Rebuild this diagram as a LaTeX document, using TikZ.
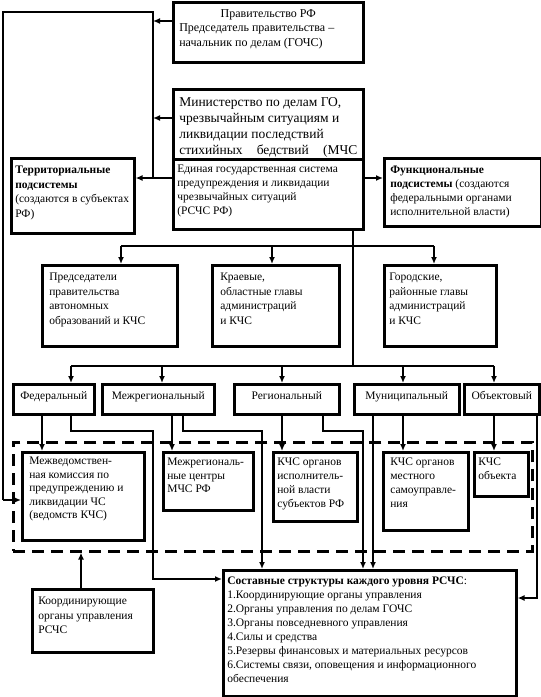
\documentclass[tikz,border=0pt]{standalone}
\usepackage{fontspec}
\setmainfont{Liberation Serif}
\usetikzlibrary{arrows.meta}
\newcommand\bt[4]{\parbox[c][#2pt][t]{#1pt}{\raggedright\vspace*{#3pt}#4}}
\tikzset{
  box/.style={draw, line width=2.6pt, inner ysep=0pt, anchor=north west,
    font=\fontsize{11.5}{14}\selectfont},
  conn/.style={line width=2.6pt},
  arr/.style={conn, -{Latex[length=7pt,width=6pt]}},
  dashbox/.style={draw, dash pattern=on 12pt off 7pt, line width=2.6pt,
    anchor=north west, inner sep=0pt},
}
\begin{document}
\begin{tikzpicture}[x=1pt,y=-1pt]
\useasboundingbox (0,0) rectangle (541,697);
% dashed frame
\node[dashbox, minimum width=519pt, minimum height=109pt] (dash) at (12,441) {};
% top boxes
\node[box, inner xsep=6pt, font=\fontsize{12}{14.5}\selectfont] (prav) at (172,1)
  {\bt{178}{60}{7}{\makebox[\linewidth]{Правительство РФ}\\Председатель правительства –\\начальник по делам (ГОЧС)}};
\node[box, inner xsep=6pt, font=\fontsize{13.5}{16}\selectfont] (min) at (172,88)
  {\bt{178}{70}{8}{Министерство по делам ГО,\\чрезвычайным ситуациям и\\ликвидации последствий\\\hbox to\linewidth{стихийных\hfill бедствий\hfill(МЧС}}};
\node[box, inner xsep=4pt] (edin) at (172,158)
  {\bt{182}{70}{6}{Единая государственная система\\предупреждения и ликвидации\\чрезвычайных ситуаций\\(РСЧС РФ)}};
\node[box, inner xsep=4pt, font=\fontsize{11.5}{14.5}\selectfont] (terr) at (10,157)
  {\bt{115}{75}{8}{\textbf{Территориальные}\\\textbf{подсистемы}\\(создаются в субъектах\\РФ)}};
\node[box, inner xsep=6pt] (func) at (383,157)
  {\bt{145}{68}{8}{\textbf{Функциональные}\\\textbf{подсистемы} (создаются\\федеральными органами\\исполнительной власти)}};
% second row
\node[box, inner xsep=7pt, font=\fontsize{11.5}{14.5}\selectfont] (pred) at (41,264)
  {\bt{121}{81}{8}{Председатели\\правительства\\автономных\\образований и КЧС}};
\node[box, inner xsep=8pt, font=\fontsize{11.5}{14.5}\selectfont] (krae) at (211,264)
  {\bt{111}{81}{8}{Краевые,\\областные главы\\администраций\\и КЧС}};
\node[box, inner xsep=5pt, font=\fontsize{11.5}{14.5}\selectfont] (gor) at (383,264)
  {\bt{102}{81}{8}{Городские,\\районные главы\\администраций\\и КЧС}};
% level boxes
\node[box, inner xsep=2pt] (fed) at (12,383) {\bt{77}{30}{7}{\centering Федеральный}};
\node[box, inner xsep=2pt] (mezh) at (101,383) {\bt{108}{30}{7}{\centering Межрегиональный}};
\node[box, inner xsep=2pt] (reg) at (233,383) {\bt{101}{30}{7}{\centering Региональный}};
\node[box, inner xsep=2pt] (mun) at (353,383) {\bt{101}{30}{7}{\centering Муниципальный}};
\node[box, inner xsep=2pt] (obj) at (463,383) {\bt{71}{30}{7}{\centering Объектовый}};
% inner boxes
\node[box, inner xsep=7pt, font=\fontsize{11.5}{13.5}\selectfont] (mv) at (21,451)
  {\bt{108}{88}{5}{Межведомствен-\\ная комиссия по\\предупреждению и\\ликвидации ЧС\\(ведомств КЧС)}};
\node[box, inner xsep=4pt, font=\fontsize{11.5}{13.5}\selectfont] (mrc) at (162,451)
  {\bt{82}{58}{6}{Межрегиональ-\\ные центры\\МЧС РФ}};
\node[box, inner xsep=4pt, font=\fontsize{11.5}{13.8}\selectfont] (kisp) at (272,451)
  {\bt{76}{69}{6}{КЧС органов\\исполнитель-\\ной власти\\субъектов РФ}};
\node[box, inner xsep=7pt, font=\fontsize{11.5}{13.8}\selectfont] (kmest) at (382,451)
  {\bt{71}{78}{6}{КЧС органов\\местного\\самоуправле-\\ния}};
\node[box, inner xsep=4pt, font=\fontsize{11.5}{14}\selectfont] (kobj) at (473,451)
  {\bt{46}{44}{6}{КЧС\\объекта}};
% bottom boxes
\node[box, inner xsep=4pt] (sost) at (222,569)
  {\bt{285}{126}{7}{\textbf{Составные структуры каждого уровня РСЧС}:\\1.Координирующие органы управления\\2.Органы управления по делам ГОЧС\\3.Органы повседневного управления\\4.Силы и средства\\5.Резервы финансовых и материальных ресурсов\\6.Системы связи, оповещения и информационного\\обеспечения}};
\node[box, inner xsep=6pt, font=\fontsize{11.5}{14.5}\selectfont] (koord) at (31,588)
  {\bt{109}{63}{8}{Координирующие\\органы управления\\РСЧС}};
% junction coordinates
\coordinate (jA) at (153,12);
\coordinate (jL) at (3,12);
\coordinate (jLB) at (3,500);
\coordinate (jE) at (153,178);
\coordinate (jB1) at (353,246);
\coordinate (jB2) at (353,366);
% top frame
\draw[conn] (jE) -- (jA) -- (jL) -- (jLB);
\draw[arr] (jLB) -- (jLB -| mv.west);
\draw[arr] (prav.west |- 0,21) -- (jA |- 0,21);
\draw[arr] (min.west |- 0,118) -- (jA |- 0,118);
\draw[arr] (edin.west |- 0,178) -- (terr.east |- 0,178);
\draw[arr] (edin.east |- 0,178) -- (func.west |- 0,178);
% trunk
\draw[conn] (edin.south -| jB2) -- (jB2);
\draw[conn] (121,246) -- (434,246);
\draw[arr] (121,246) -- (pred.north -| 121,0);
\draw[arr] (272,246) -- (krae.north -| 272,0);
\draw[arr] (434,246) -- (gor.north -| 434,0);
\draw[conn] (71,366) -- (494,366);
\draw[arr] (71,366) -- (fed.north -| 71,0);
\draw[arr] (162,366) -- (mezh.north -| 162,0);
\draw[arr] (282,366) -- (reg.north -| 282,0);
\draw[arr] (403,366) -- (mun.north -| 403,0);
\draw[arr] (494,366) -- (obj.north -| 494,0);
% level to inner
\draw[arr] (fed.south -| 42,0) -- (mv.north -| 42,0);
\draw[arr] (mezh.south -| 172,0) -- (mrc.north -| 172,0);
\draw[arr] (reg.south -| 282,0) -- (kisp.north -| 282,0);
\draw[arr] (mun.south -| 403,0) -- (kmest.north -| 403,0);
\draw[arr] (obj.south -| 494,0) -- (kobj.north -| 494,0);
% level to sost
\draw[arr] (fed.south -| 71,0) -- (71,431) -- (153,431) -- (153,579) -- (sost.west |- 0,579);
\draw[arr] (mezh.south -| 183,0) -- (183,431) -- (262,431) -- (sost.north -| 262,0);
\draw[arr] (reg.south -| 323,0) -- (323,431) -- (363,431) -- (sost.north -| 363,0);
\draw[arr] (mun.south -| 373,0) -- (sost.north -| 373,0);
\draw[arr] (obj.south -| 537,0) -- (537,598) -- (sost.east |- 0,598);
% koord
\draw[arr] (koord.north -| 81,0) -- (dash.south -| 81,0);
\end{tikzpicture}
\end{document}
